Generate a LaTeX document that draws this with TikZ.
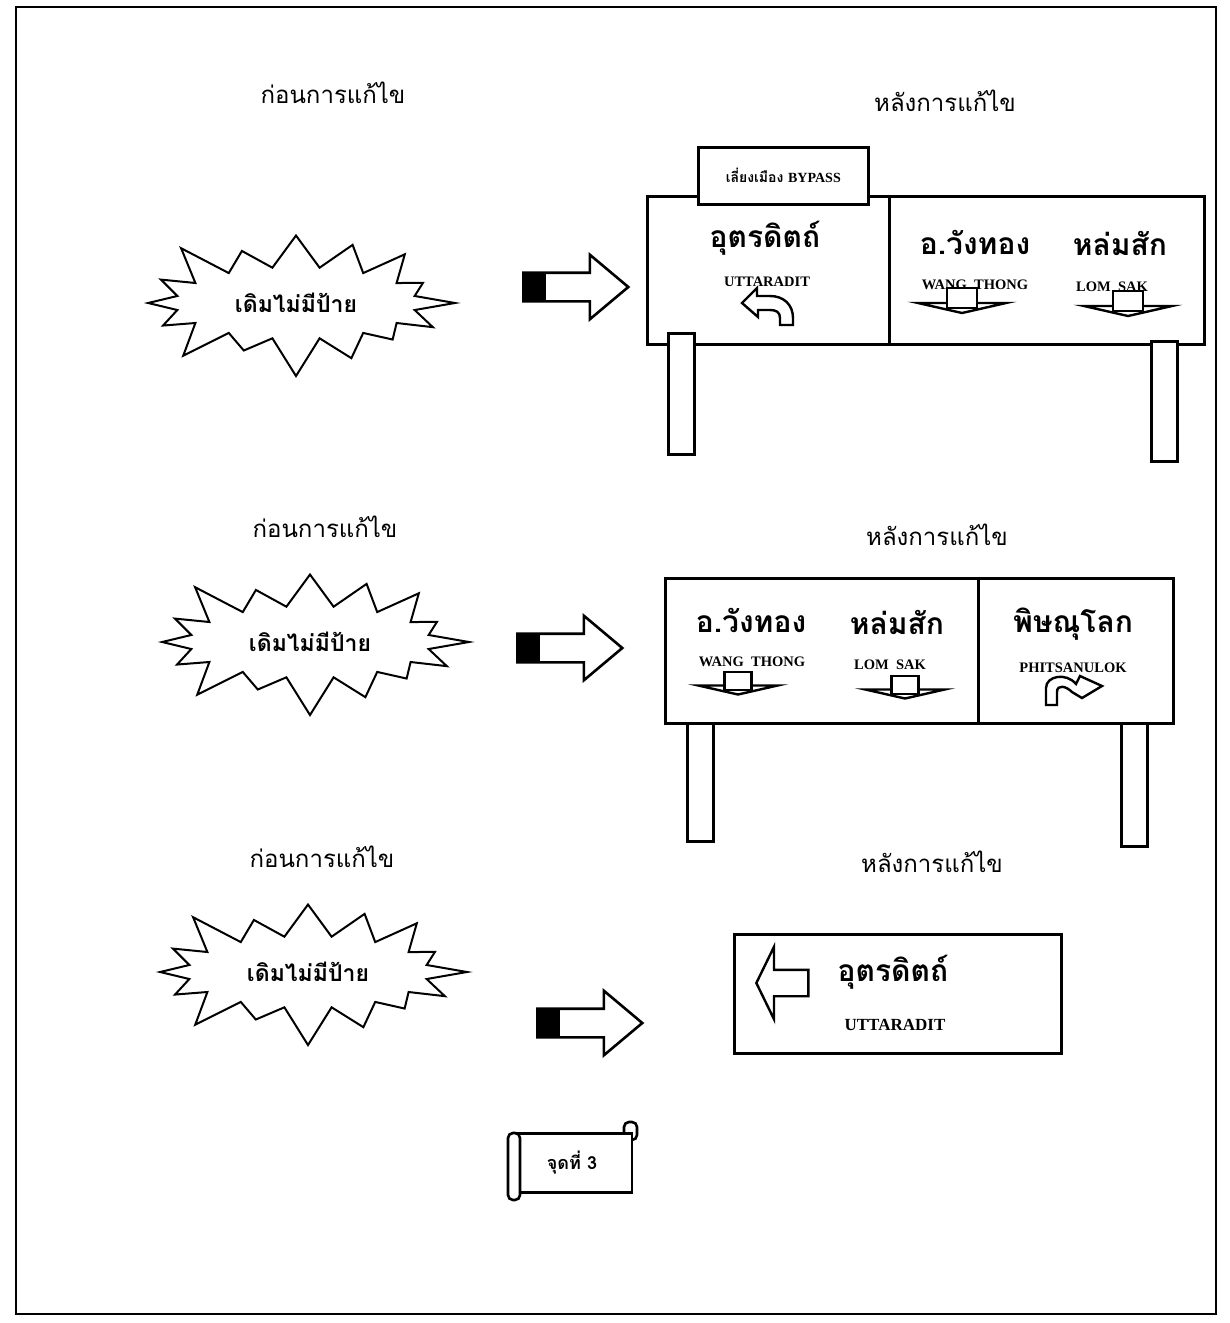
\documentclass[tikz,border=0pt]{standalone}
\usepackage{fontspec}
\setmainfont{Liberation Serif}
\newfontfamily\thaifont[Script=Thai]{Loma}
\usetikzlibrary{shapes.symbols, shapes.arrows, positioning}

\begin{document}
\begin{tikzpicture}[
  x=1pt, y=-1pt,
  signline/.style={draw, line width=2.6pt, fill=white},
  signpanel/.style={signline, rectangle, anchor=north west, inner sep=0pt},
  signpost/.style={signline, rectangle, anchor=north west, inner sep=0pt,
               minimum width=26pt},
  burst/.style={starburst, draw, line width=2pt, starburst points=16,
               starburst point height=44pt, minimum width=330pt,
               minimum height=160pt, inner sep=0pt,
               font=\thaifont\bfseries\fontsize{23}{27}\selectfont},
  headline/.style={font=\thaifont\fontsize{24}{28}\selectfont},
  placename/.style={font=\thaifont\bfseries\fontsize{30}{34}\selectfont},
  romanname/.style={font=\bfseries\fontsize{14.5}{16}\selectfont},
  bigarrow/.style={single arrow, draw, line width=2.6pt, fill=white,
               minimum height=105pt, inner xsep=0pt, inner ysep=13pt,
               single arrow head extend=18pt, single arrow tip angle=80,
               anchor=tail},
  tailblock/.style={draw, fill=black, anchor=west, inner sep=0pt,
               minimum width=23pt, minimum height=28pt},
  bentarrow/.style={draw, line width=2.4pt, fill=white, line join=miter},
  scrolline/.style={draw, line width=2.6pt, fill=white},
  downsign/.pic={
    \draw[line width=2.4pt, fill=white, line join=miter]
      (-44,15) -- (44,15) -- (0,25) -- cycle;
    \draw[line width=2.2pt, fill=white] (-15,0) rectangle (15,20);
  },
]
\useasboundingbox (0,0) rectangle (1230,1323);
\draw[line width=1.8pt] (16,7) rectangle (1216,1314);

% ---- first spot ----
\node[headline] (before1) at (333,93) {ก่อนการแก้ไข};
\node[headline] (after1) at (945,101) {หลังการแก้ไข};
\node[burst] (burst1) at (296,303) {เดิมไม่มีป้าย};
\node[bigarrow] (arr1) at (522,287) {};
\node[tailblock] (blk1) at (arr1.tail) {};

\node[signpanel, minimum width=242pt, minimum height=148pt] (s1left) at (646,195) {};
\node[signpanel, minimum width=315pt, minimum height=148pt] (s1right) at (888,195) {};
\node[signpanel, minimum width=170pt, minimum height=57pt] (bypass) at (697,146) {};
\node[font=\thaifont\bfseries\fontsize{14}{16}\selectfont] (bypasstxt) at (bypass.center)
  {เลี่ยงเมือง {\rmfamily\bfseries BYPASS}};
\node[signpost, minimum height=121pt] (s1postl) at (667,332) {};
\node[signpost, minimum height=120pt] (s1postr) at (1150,340) {};

\node[placename] (utt1) at (765,238) {อุตรดิตถ์};
\node[romanname] (utt1en) at (767,282) {UTTARADIT};
\path[bentarrow] (780,325) -- (780,318) .. controls (780,312) and (776,310) .. (770,310)
  -- (758,310) -- (758,317) -- (742,303) -- (757,288) -- (757,296) -- (770,296)
  .. controls (784,296) and (793,305) .. (793,318) -- (793,325) -- cycle;

\node[placename] (wang1) at (975,242) {อ.วังทอง};
\node[romanname] (wang1en) at (975,285) {WANG\ \ THONG};
\pic at (962,288) {downsign};
\node[placename] (lom1) at (1120,243) {หล่มสัก};
\node[romanname] (lom1en) at (1112,287) {LOM\ \ SAK};
\pic at (1128,291) {downsign};

% ---- second spot ----
\node[headline] (before2) at (325,527) {ก่อนการแก้ไข};
\node[headline] (after2) at (937,535) {หลังการแก้ไข};
\node[burst] (burst2) at (310,642) {เดิมไม่มีป้าย};
\node[bigarrow] (arr2) at (516,648) {};
\node[tailblock] (blk2) at (arr2.tail) {};

\node[signpanel, minimum width=313pt, minimum height=145pt] (s2left) at (664,577) {};
\node[signpanel, minimum width=195pt, minimum height=145pt] (s2right) at (977,577) {};
\node[signpost, minimum height=118pt] (s2postl) at (686,722) {};
\node[signpost, minimum height=123pt] (s2postr) at (1120,722) {};

\node[placename] (wang2) at (751,620) {อ.วังทอง};
\node[romanname] (wang2en) at (752,662) {WANG\ \ THONG};
\pic[scale=0.9] at (738,672) {downsign};
\node[placename] (lom2) at (897,622) {หล่มสัก};
\node[romanname] (lom2en) at (890,665) {LOM\ \ SAK};
\pic[scale=0.9] at (905,676) {downsign};
\node[placename] (phs2) at (1073,624) {พิษณุโลก};
\node[romanname] (phs2en) at (1073,668) {PHITSANULOK};
\path[bentarrow] (1046,705) -- (1046,688) .. controls (1046,676) and (1066,672) .. (1076,684)
  -- (1080,676) -- (1102,686) -- (1082,698) -- (1072,692)
  .. controls (1066,686) and (1057,684) .. (1057,692) -- (1057,705) -- cycle;

% ---- third spot ----
\node[headline] (before3) at (322,857) {ก่อนการแก้ไข};
\node[headline] (after3) at (932,862) {หลังการแก้ไข};
\node[burst] (burst3) at (308,972) {เดิมไม่มีป้าย};
\node[bigarrow] (arr3) at (536,1023) {};
\node[tailblock] (blk3) at (arr3.tail) {};

\node[signpanel, minimum width=327pt, minimum height=119pt] (s3) at (733,933) {};
\node[single arrow, draw, line width=2.4pt, fill=white, shape border rotate=180,
      minimum height=52pt, inner xsep=0pt, inner ysep=12pt,
      single arrow head extend=23pt, single arrow tip angle=128, anchor=tip]
  (s3arrow) at (755,983) {};
\node[placename] (utt3) at (893,972) {อุตรดิตถ์};
\node[romanname, font=\bfseries\fontsize{17}{19}\selectfont] (utt3en) at (895,1025) {UTTARADIT};

% ---- spot label ----
\path[scrolline, rounded corners=5pt] (624,1122) rectangle (637,1140);
\node[scrolline, rectangle, minimum width=120pt, minimum height=59pt, inner sep=0pt,
      font=\thaifont\bfseries\fontsize{18}{20}\selectfont] (spot) at (572,1163) {จุดที่ 3};
\path[scrolline, rounded corners=5pt] (508,1133) rectangle (520,1200);

\end{tikzpicture}
\end{document}
